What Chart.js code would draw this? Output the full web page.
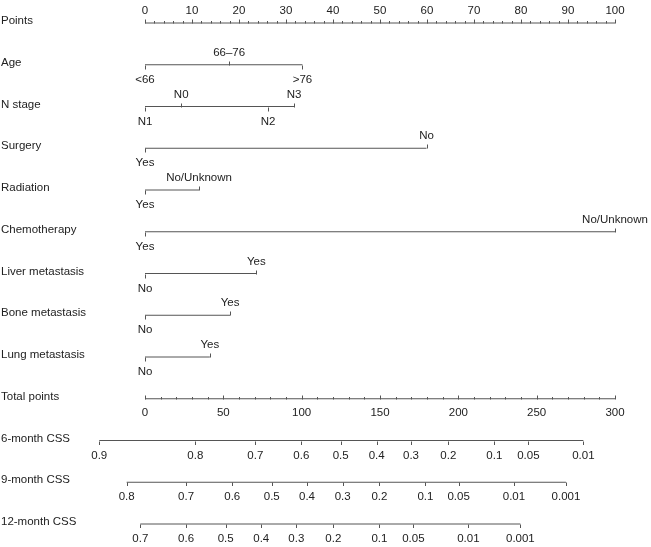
<!DOCTYPE html>
<html lang="en">
<head>
    <meta charset="UTF-8">
    <script src="https://cdn.jsdelivr.net/npm/chart.js@4"></script>
    <title>Nomogram CSS</title>
    <style>
        body { margin: 0; background: #fff; }
    </style>
</head>
<body>
<canvas id="nomo" width="651" height="547"></canvas>
<script>
    // rows of the nomogram
    var rowNames = ['Points', 'Age', 'N stage', 'Surgery', 'Radiation', 'Chemotherapy',
        'Liver metastasis', 'Bone metastasis', 'Lung metastasis', 'Total points',
        '6-month CSS', '9-month CSS', '12-month CSS'];

    var pointTicks = [0, 10, 20, 30, 40, 50, 60, 70, 80, 90, 100];

    // predictor levels and their points
    var ageLevels = ['<66', '66\u201376', '>76'];
    var ageScores = [0, 17.9, 33.5];
    var nLevels = ['N1', 'N0', 'N2', 'N3'];
    var nScores = [0, 7.7, 26.2, 31.7];
    var surgeryLevels = ['Yes', 'No'];
    var surgeryScores = [0, 59.9];
    var radiationLevels = ['Yes', 'No/Unknown'];
    var radiationScores = [0, 11.5];
    var chemoLevels = ['Yes', 'No/Unknown'];
    var chemoScores = [0, 100];
    var liverLevels = ['No', 'Yes'];
    var liverScores = [0, 23.7];
    var boneLevels = ['No', 'Yes'];
    var boneScores = [0, 18.1];
    var lungLevels = ['No', 'Yes'];
    var lungScores = [0, 13.8];

    var totalTicks = [0, 50, 100, 150, 200, 250, 300];

    // survival probability labels and matching total points
    var css6Labels = ['0.9', '0.8', '0.7', '0.6', '0.5', '0.4', '0.3', '0.2', '0.1', '0.05', '0.01'];
    var css6Total = [-29.2, 32.1, 70.4, 99.8, 124.9, 147.9, 169.8, 193.6, 223.0, 244.7, 279.8];
    var css9Labels = ['0.8', '0.7', '0.6', '0.5', '0.4', '0.3', '0.2', '0.1', '0.05', '0.01', '0.001'];
    var css9Total = [-11.7, 26.2, 55.7, 80.9, 103.4, 126.2, 149.6, 179.0, 200.2, 235.5, 268.7];
    var css12Labels = ['0.7', '0.6', '0.5', '0.4', '0.3', '0.2', '0.1', '0.05', '0.01', '0.001'];
    var css12Total = [-3.0, 26.2, 51.5, 74.2, 96.6, 120.2, 149.6, 171.3, 206.4, 239.6];

    var lineColor = '#555';
    var textColor = '#222';
    var font = '11.5px "Liberation Sans", Arial, sans-serif';

    var predictors = [
        [ageLevels, ageScores], [nLevels, nScores], [surgeryLevels, surgeryScores],
        [radiationLevels, radiationScores], [chemoLevels, chemoScores], [liverLevels, liverScores],
        [boneLevels, boneScores], [lungLevels, lungScores]
    ];
    var cssRows = [[css6Labels, css6Total], [css9Labels, css9Total], [css12Labels, css12Total]];

    function lineDs(xs, row) {
        var lo = Math.min.apply(null, xs), hi = Math.max.apply(null, xs);
        return {
            type: 'line',
            data: [{x: lo, y: row}, {x: hi, y: row}],
            borderColor: lineColor,
            borderWidth: 1,
            pointRadius: 0,
            fill: false
        };
    }

    var datasets = [];
    datasets.push(lineDs(pointTicks, 0));
    predictors.forEach(function (p, i) { datasets.push(lineDs(p[1], i + 1)); });
    datasets.push(lineDs(totalTicks.map(function (t) { return t / 3; }), 9));
    cssRows.forEach(function (c, i) {
        datasets.push(lineDs(c[1].map(function (t) { return t / 3; }), 10 + i));
    });

    var nomoPlugin = {
        id: 'nomo',
        afterDatasetsDraw: function (chart) {
            var ctx = chart.ctx, xs = chart.scales.x, ys = chart.scales.y;
            ctx.save();
            ctx.strokeStyle = lineColor;
            ctx.lineWidth = 1;
            ctx.fillStyle = textColor;
            ctx.font = font;
            ctx.textBaseline = 'middle';

            function tick(x, y, len) {
                x = Math.round(x) + 0.5;
                ctx.beginPath();
                ctx.moveTo(x, y);
                ctx.lineTo(x, y + len);
                ctx.stroke();
            }
            function label(t, x, y) {
                ctx.textAlign = 'center';
                ctx.fillText(t, x, y);
            }

            // row names
            rowNames.forEach(function (n, i) {
                ctx.textAlign = 'left';
                ctx.fillText(n, 1, Math.round(ys.getPixelForValue(i)) - 2);
            });

            // points axis
            var y0 = Math.round(ys.getPixelForValue(0)) + 0.5;
            for (var v = 0; v <= 100; v += 2) {
                tick(xs.getPixelForValue(v), y0, v % 10 === 0 ? -4 : -2.5);
            }
            pointTicks.forEach(function (v) { label(String(v), xs.getPixelForValue(v), y0 - 13); });

            // predictors
            predictors.forEach(function (p, i) {
                var y = Math.round(ys.getPixelForValue(i + 1)) + 0.5;
                var order = p[1].map(function (s, k) { return k; })
                    .sort(function (a, b) { return p[1][a] - p[1][b]; });
                order.forEach(function (k, j) {
                    var x = xs.getPixelForValue(p[1][k]);
                    var up = j % 2 === 1;
                    tick(x, y, up ? -4 : 4);
                    label(p[0][k], x, up ? y - 13 : y + 14);
                });
            });

            // total points
            var yt = Math.round(ys.getPixelForValue(9)) + 0.5;
            for (var t = 0; t <= 300; t += 10) {
                tick(xs.getPixelForValue(t / 3), yt, t % 50 === 0 ? -4 : -2.5);
            }
            totalTicks.forEach(function (t) { label(String(t), xs.getPixelForValue(t / 3), yt + 13); });

            // survival axes
            cssRows.forEach(function (c, i) {
                var y = Math.round(ys.getPixelForValue(10 + i)) + 0.5;
                c[1].forEach(function (t, k) {
                    var x = xs.getPixelForValue(t / 3);
                    tick(x, y, 3.5);
                    label(c[0][k], x, y + 14);
                });
            });
            ctx.restore();
        }
    };

    new Chart(document.getElementById('nomo').getContext('2d'), {
        type: 'scatter',
        data: { datasets: datasets },
        options: {
            responsive: false,
            animation: false,
            events: [],
            layout: { padding: 0 },
            plugins: { legend: { display: false }, tooltip: { enabled: false } },
            scales: {
                x: { type: 'linear', display: false, min: -145 / 4.7, max: (651 - 145) / 4.7 },
                y: { type: 'linear', display: false, reverse: true, min: -23 / 41.75, max: (547 - 23) / 41.75 }
            }
        },
        plugins: [nomoPlugin]
    });
</script>
</body>
</html>
